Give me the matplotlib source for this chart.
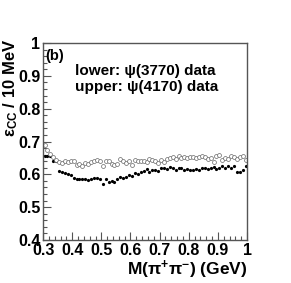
import numpy as np
import matplotlib.pyplot as plt

plt.rcParams['font.family'] = ['Liberation Sans', 'DejaVu Sans']
plt.rcParams['font.weight'] = 'bold'
plt.rcParams['mathtext.fontset'] = 'custom'
plt.rcParams['mathtext.rm'] = 'Liberation Sans:bold'
plt.rcParams['mathtext.it'] = 'Liberation Sans:bold'
plt.rcParams['mathtext.bf'] = 'Liberation Sans:bold'

# bin centres, 10 MeV bins from 0.3 to 1.0 GeV
mass = np.arange(0.305, 1.0, 0.01)

# lower: psi(3770) data
eff_3770 = [0.655, 0.655, 0.655, 0.640, 0.640, 0.610, 0.608, 0.605, 0.600, 0.598,
            0.588, 0.585, 0.585, 0.585, 0.587, 0.583, 0.585, 0.590, 0.588, 0.585,
            0.572, 0.585, 0.578, 0.580, 0.577, 0.585, 0.592, 0.590, 0.593, 0.597,
            0.595, 0.603, 0.600, 0.607, 0.610, 0.615, 0.608, 0.613, 0.612, 0.610,
            0.618, 0.620, 0.615, 0.622, 0.620, 0.612, 0.620, 0.618, 0.613, 0.615,
            0.614, 0.613, 0.615, 0.614, 0.618, 0.620, 0.615, 0.618, 0.622, 0.615,
            0.620, 0.625, 0.618, 0.625, 0.620, 0.625, 0.607, 0.607, 0.612, 0.625]

# upper: psi(4170) data
eff_4170 = [0.690, 0.675, 0.663, 0.652, 0.645, 0.638, 0.635, 0.640, 0.637, 0.642,
            0.640, 0.628, 0.632, 0.625, 0.635, 0.632, 0.638, 0.640, 0.645, 0.640,
            0.625, 0.640, 0.642, 0.630, 0.628, 0.632, 0.648, 0.640, 0.636, 0.642,
            0.628, 0.645, 0.640, 0.642, 0.640, 0.638, 0.648, 0.643, 0.640, 0.635,
            0.645, 0.637, 0.648, 0.650, 0.652, 0.648, 0.655, 0.650, 0.652, 0.650,
            0.652, 0.652, 0.650, 0.652, 0.655, 0.652, 0.648, 0.650, 0.638, 0.655,
            0.660, 0.645, 0.650, 0.648, 0.656, 0.652, 0.648, 0.652, 0.655, 0.645]

fig = plt.figure(figsize=(2.91, 2.83), dpi=100)
ax = fig.add_axes([0.148, 0.152, 0.701, 0.696])

ax.plot(mass, eff_3770, 'o', ms=2.3, color='black', mew=0)
ax.plot(mass, eff_4170, 'o', ms=2.8, mfc='white', mec='#666666', mew=0.5)

ax.set_xlim(0.3, 1.0)
ax.set_ylim(0.4, 1.0)
ax.set_xticks(np.arange(0.3, 1.01, 0.1))
ax.set_xticklabels(['0.3', '0.4', '0.5', '0.6', '0.7', '0.8', '0.9', '1'])
ax.set_yticks(np.arange(0.4, 1.01, 0.1))
ax.set_yticklabels(['0.4', '0.5', '0.6', '0.7', '0.8', '0.9', '1'])
ax.set_xticks(np.arange(0.3, 1.001, 0.02), minor=True)
ax.set_yticks(np.arange(0.4, 1.001, 0.02), minor=True)
ax.tick_params(which='both', direction='in', color='#555555', width=0.8)
ax.tick_params(which='major', length=6, labelsize=11.5, pad=2)
ax.tick_params(which='minor', length=3)
for s in ax.spines.values():
    s.set_color('#555555')
    s.set_linewidth(1)

ax.text(0.01, 0.97, '(b)', transform=ax.transAxes, fontsize=10.5, va='top', ha='left')
ax.text(0.157, 0.86, 'lower: ψ(3770) data', transform=ax.transAxes, fontsize=11, va='center')
ax.text(0.157, 0.775, 'upper: ψ(4170) data', transform=ax.transAxes, fontsize=11, va='center')

fig.text(0.036, 0.862, r'ε$_{\rm CC}$ / 10 MeV', rotation=90, ha='center', va='top', fontsize=12)
fig.text(0.849, 0.046, r'M(π$^{+}$π$^{-}$) (GeV)', ha='right', va='center', fontsize=12.5)

plt.savefig('out.png', dpi=100)
